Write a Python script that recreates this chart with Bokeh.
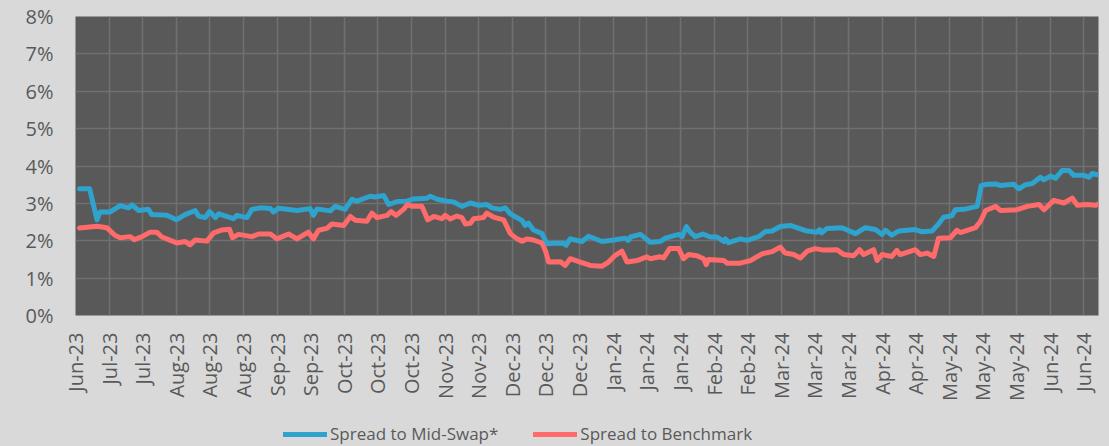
from math import pi
from bokeh.plotting import figure
from bokeh.layouts import column
from bokeh.models import Range1d, FixedTicker, PrintfTickFormatter, Legend, LegendItem
from bokeh.embed import file_html
from bokeh.resources import INLINE

# x tick labels (one tick every two weeks, index positions 0..30)
tick_labels = ["Jun-23", "Jul-23", "Jul-23", "Aug-23", "Aug-23", "Aug-23", "Sep-23", "Sep-23",
               "Oct-23", "Oct-23", "Oct-23", "Nov-23", "Nov-23", "Dec-23", "Dec-23", "Dec-23",
               "Jan-24", "Jan-24", "Jan-24", "Feb-24", "Feb-24", "Mar-24", "Mar-24", "Mar-24",
               "Apr-24", "Apr-24", "May-24", "May-24", "May-24", "Jun-24", "Jun-24"]
y_ticks = [0, 1, 2, 3, 4, 5, 6, 7, 8]
series_names = ["Spread to Mid-Swap*", "Spread to Benchmark"]

# Spread to Mid-Swap* (%), positions in tick units
mid_t = [0.12, 0.42, 0.64, 0.73, 1.03, 1.33, 1.58, 1.68, 1.88, 2.17, 2.27, 2.72, 3.00, 3.26, 3.56, 3.66,
         3.86, 3.99, 4.16, 4.26, 4.70, 4.80, 5.10, 5.25, 5.50, 5.80, 5.89, 6.04, 6.59, 6.98, 7.08, 7.18,
         7.28, 7.58, 7.73, 8.02, 8.23, 8.37, 8.77, 8.92, 9.17, 9.32, 9.57, 9.86, 10.06, 10.46, 10.56,
         10.76, 11.05, 11.25, 11.50, 11.75, 12.00, 12.24, 12.39, 12.64, 12.79, 12.94, 13.29, 13.38,
         13.48, 13.63, 13.88, 14.03, 14.23, 14.52, 14.60, 14.72, 15.07, 15.27, 15.67, 16.01, 16.36,
         16.45, 16.51, 16.81, 17.10, 17.40, 17.55, 17.95, 18.05, 18.18, 18.29, 18.44, 18.67, 18.89,
         19.09, 19.29, 19.34, 19.43, 19.78, 19.98, 20.33, 20.53, 20.73, 20.97, 21.27, 21.57, 21.77,
         22.06, 22.14, 22.20, 22.36, 22.81, 23.21, 23.50, 23.80, 24.00, 24.10, 24.29, 24.49, 24.99,
         25.19, 25.49, 25.68, 25.83, 26.08, 26.18, 26.43, 26.83, 26.95, 27.12, 27.37, 27.51, 27.92,
         28.07, 28.27, 28.47, 28.71, 28.81, 29.01, 29.16, 29.36, 29.56, 29.71, 30.01, 30.16, 30.25, 30.45]
mid_v = [3.39, 3.39, 2.56, 2.77, 2.77, 2.94, 2.88, 2.96, 2.81, 2.84, 2.70, 2.68, 2.56, 2.70, 2.81, 2.66,
         2.62, 2.78, 2.62, 2.72, 2.59, 2.68, 2.62, 2.84, 2.88, 2.86, 2.77, 2.87, 2.81, 2.86, 2.68, 2.84,
         2.84, 2.80, 2.92, 2.84, 3.11, 3.06, 3.19, 3.17, 3.21, 2.97, 3.05, 3.06, 3.12, 3.14, 3.19,
         3.11, 3.06, 3.04, 2.92, 3.01, 2.95, 2.97, 2.88, 2.84, 2.88, 2.72, 2.54, 2.41,
         2.47, 2.29, 2.19, 1.92, 1.93, 1.93, 1.88, 2.05, 1.98, 2.12, 1.98, 2.02, 2.07,
         2.01, 2.10, 2.17, 1.96, 1.98, 2.07, 2.17, 2.11, 2.38, 2.23, 2.11, 2.18, 2.10,
         2.10, 1.98, 2.05, 1.95, 2.05, 2.01, 2.11, 2.25, 2.26, 2.38, 2.41, 2.32, 2.26,
         2.23, 2.30, 2.21, 2.33, 2.35, 2.19, 2.35, 2.30, 2.17, 2.28, 2.15, 2.26, 2.30,
         2.24, 2.26, 2.45, 2.63, 2.67, 2.83, 2.84, 2.92, 3.48, 3.51, 3.52, 3.48, 3.51,
         3.39, 3.50, 3.53, 3.70, 3.63, 3.73, 3.67, 3.88, 3.88, 3.75, 3.75, 3.70, 3.80, 3.76]

# Spread to Benchmark (%)
bench_t = [0.12, 0.64, 0.93, 1.18, 1.33, 1.63, 1.75, 1.98, 2.22, 2.42, 2.57, 2.77, 3.02, 3.26, 3.41, 3.56,
           3.91, 4.11, 4.36, 4.58, 4.67, 4.85, 5.25, 5.45, 5.80, 5.99, 6.34, 6.59, 6.93, 7.08, 7.23, 7.48,
           7.63, 7.98, 8.18, 8.33, 8.67, 8.82, 8.97, 9.27, 9.39, 9.54, 9.76, 9.88, 10.01, 10.31, 10.48,
           10.66, 10.90, 11.00, 11.15, 11.35, 11.50, 11.60, 11.75, 11.85, 12.14, 12.24, 12.44, 12.74,
           12.94, 13.14, 13.29, 13.44, 13.63, 13.88, 13.98, 14.08, 14.43, 14.57, 14.72, 15.02, 15.32,
           15.67, 15.86, 16.06, 16.26, 16.41, 16.71, 17.00, 17.10, 17.40, 17.50, 17.68, 17.95, 18.09,
           18.24, 18.49, 18.69, 18.77, 18.83, 19.29, 19.39, 19.78, 20.08, 20.43, 20.73, 20.97, 21.12,
           21.37, 21.57, 21.77, 22.01, 22.26, 22.66, 22.86, 23.15, 23.33, 23.45, 23.75, 23.85, 24.00,
           24.29, 24.44, 24.54, 24.99, 25.14, 25.34, 25.54, 25.68, 26.03, 26.23, 26.33, 26.78, 26.93,
           27.08, 27.38, 27.52, 28.02, 28.32, 28.67, 28.82, 29.11, 29.41, 29.66, 29.81, 30.10, 30.36, 30.45]
bench_v = [2.34, 2.39, 2.35, 2.14, 2.08, 2.11, 2.03, 2.11, 2.23, 2.23, 2.10, 2.03, 1.94, 1.98, 1.89, 2.02,
           1.99, 2.21, 2.29, 2.31, 2.08, 2.17, 2.11, 2.18, 2.18, 2.05, 2.18, 2.05, 2.23, 2.05, 2.28, 2.33,
           2.45, 2.41, 2.65, 2.55, 2.52, 2.74, 2.62, 2.68, 2.78, 2.68, 2.84, 2.97, 2.92, 2.92, 2.56,
           2.65, 2.59, 2.68, 2.58, 2.66, 2.62, 2.45, 2.47, 2.59, 2.62, 2.74, 2.63, 2.56,
           2.19, 2.05, 1.99, 2.05, 2.02, 1.94, 1.74, 1.43, 1.44, 1.34, 1.52, 1.43, 1.34,
           1.32, 1.43, 1.61, 1.72, 1.43, 1.47, 1.57, 1.52, 1.57, 1.54, 1.79, 1.79, 1.52,
           1.63, 1.60, 1.52, 1.36, 1.50, 1.47, 1.40, 1.40, 1.47, 1.65, 1.71, 1.83, 1.67,
           1.63, 1.54, 1.72, 1.79, 1.75, 1.76, 1.63, 1.60, 1.76, 1.63, 1.76, 1.47, 1.63,
           1.58, 1.74, 1.63, 1.76, 1.63, 1.67, 1.58, 2.07, 2.08, 2.28, 2.22, 2.35, 2.52,
           2.81, 2.92, 2.81, 2.83, 2.92, 2.97, 2.83, 3.08, 3.01, 3.14, 2.95, 2.97, 2.95, 2.99]

TEXT = "#595959"
FONT = "Open Sans"
BG = "#d9d9d9"
BLUE = "#2ea3cd"
RED = "#ff6b6b"

p = figure(width=1109, height=416, output_backend="svg", toolbar_location=None,
           x_range=Range1d(0, 30.44), y_range=Range1d(0, 8),
           min_border_left=75, min_border_right=11, min_border_top=16, min_border_bottom=101,
           background_fill_color="#595959", border_fill_color=BG)
p.outline_line_color = None

p.line(mid_t, mid_v, line_width=5, line_color=BLUE, line_join="round", line_cap="round")
p.line(bench_t, bench_v, line_width=5, line_color=RED, line_join="round", line_cap="round")

p.xaxis.ticker = FixedTicker(ticks=list(range(len(tick_labels))))
p.xaxis.major_label_overrides = {i: lab for i, lab in enumerate(tick_labels)}
p.xaxis.major_label_orientation = pi / 2
p.yaxis.ticker = FixedTicker(ticks=y_ticks)
p.yaxis.formatter = PrintfTickFormatter(format="%d%%")

for ax in (p.xaxis, p.yaxis):
    ax.axis_line_color = None
    ax.major_tick_line_color = None
    ax.minor_tick_line_color = None
    ax.major_tick_in = 0
    ax.major_tick_out = 0
    ax.major_label_text_color = TEXT
    ax.major_label_text_font = FONT
    ax.major_label_text_font_size = "20px"
p.xaxis.major_label_standoff = 17
p.yaxis.major_label_standoff = 22

for g in (p.xgrid, p.ygrid):
    g.grid_line_color = "#707070"
    g.grid_line_width = 1.5

# legend strip below the chart (its own lines lie outside its visible range)
lg = figure(width=1109, height=30, output_backend="svg", toolbar_location=None,
            x_range=Range1d(0, 1), y_range=Range1d(100, 101),
            x_axis_location=None, y_axis_location=None,
            min_border_left=75, min_border_right=11, min_border_top=0, min_border_bottom=0,
            background_fill_color=BG, border_fill_color=BG)
lg.outline_line_color = None
lg.grid.visible = False
k1 = lg.line(mid_t, mid_v, line_width=5, line_color=BLUE, line_cap="round")
k2 = lg.line(bench_t, bench_v, line_width=5, line_color=RED, line_cap="round")
legend = Legend(items=[LegendItem(label=series_names[0], renderers=[k1]),
                       LegendItem(label=series_names[1], renderers=[k2])],
                orientation="horizontal", location=(208, 1),
                glyph_width=44, glyph_height=20, label_standoff=3, spacing=35,
                padding=0, margin=0, border_line_color=None, background_fill_alpha=0,
                label_text_font=FONT, label_text_font_size="17px", label_text_color=TEXT,
                label_height=20)
lg.add_layout(legend, "center")

layout = column(p, lg, spacing=0, styles={"background-color": BG})
open("out.html", "w").write(file_html(layout, INLINE))
